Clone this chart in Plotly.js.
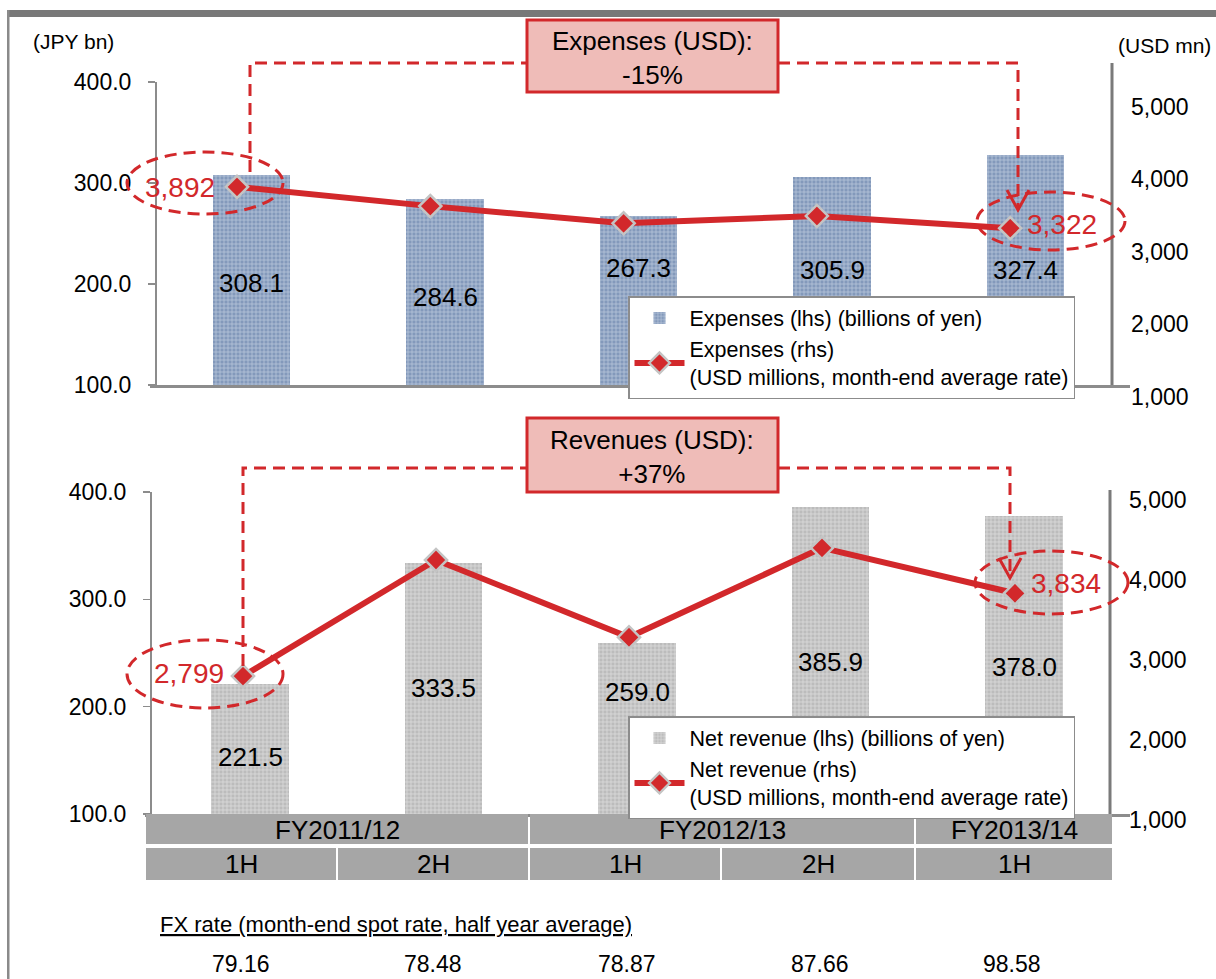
<!DOCTYPE html>
<html>
<head>
<meta charset="utf-8">
<script src="https://cdn.plot.ly/plotly-3.0.1.min.js"></script>
<style>
  html, body { margin: 0; padding: 0; background: #ffffff; }
  #chart { width: 1216px; height: 979px; }
</style>
</head>
<body>
<div id="chart"></div>
<script>
// ---- Data -------------------------------------------------------------
const periods = ['FY2011/12 1H', 'FY2011/12 2H', 'FY2012/13 1H', 'FY2012/13 2H', 'FY2013/14 1H'];
const fiscalYears = ['FY2011/12', 'FY2012/13', 'FY2013/14'];
const halves = ['1H', '2H', '1H', '2H', '1H'];

const expensesJPY = [308.1, 284.6, 267.3, 305.9, 327.4];   // billions of yen
const expensesUSD = [3892, 3626, 3389, 3490, 3322];        // USD millions
const revenueJPY = [221.5, 333.5, 259.0, 385.9, 378.0];    // billions of yen
const revenueUSD = [2799, 4250, 3284, 4402, 3834];         // USD millions
const fxRates = [79.16, 78.48, 78.87, 87.66, 98.58];       // JPY per USD

const leftTicks = [100, 200, 300, 400];
const rightTicks = [1000, 2000, 3000, 4000, 5000];

// ---- Page geometry helpers ------------------------------------------
const W = 1216, H = 979;
const px = x => x / W;
const py = y => 1 - y / H;
const yDomain = (bottom, top) => [py(bottom), py(top)];
// value range of an axis whose domain spans [bottom, top] pixels, given two reference ticks
function yRange(bottom, top, v1, p1, v2, p2) {
  const s = (p1 - p2) / (v2 - v1);
  return [v1 - (bottom - p1) / s, v2 + (p2 - top) / s];
}
const xRange = (left, right, c0, step) => [(left - c0) / step, (right - c0) / step];

const FONT = 'Liberation Sans, Arial, sans-serif';
const RED = '#d2282b';
const AXIS_GREY = '#8c8c8c';
const idx = periods.map((_, i) => i);
const fmtInt = v => v.toLocaleString('en-US');
const pctChange = arr => {
  const p = Math.round((arr[arr.length - 1] / arr[0] - 1) * 100);
  return (p > 0 ? '+' : '') + p + '%';
};

// ---- Traces -------------------------------------------------------------
const barWidth = 0.403;
const lineStyle = {color: RED, width: 6};
const markerStyle = {symbol: 'diamond', size: 17, color: RED, line: {color: '#c4c4c4', width: 2.5}};

const traces = [
  {
    type: 'bar', x: idx, y: expensesJPY, xaxis: 'x', yaxis: 'y', width: barWidth,
    name: 'Expenses (lhs) (billions of yen)', legend: 'legend',
    marker: {color: '#8aa0c0', line: {width: 0},
      pattern: {shape: '+', bgcolor: '#8399bb', fgcolor: '#b8c6db', size: 4, solidity: 0.35}},
    hoverinfo: 'skip'
  },
  {
    type: 'scatter', mode: 'lines+markers', x: idx, y: expensesUSD, xaxis: 'x3', yaxis: 'y2',
    name: 'Expenses (rhs)<br>(USD millions, month-end average rate)', legend: 'legend',
    line: lineStyle, marker: markerStyle, hoverinfo: 'skip'
  },
  {
    type: 'bar', x: idx, y: revenueJPY, xaxis: 'x2', yaxis: 'y3', width: barWidth,
    name: 'Net revenue (lhs) (billions of yen)', legend: 'legend2',
    marker: {color: '#c4c4c4', line: {width: 0},
      pattern: {shape: '+', bgcolor: '#bcbcbc', fgcolor: '#dcdcdc', size: 4, solidity: 0.35}},
    hoverinfo: 'skip'
  },
  {
    type: 'scatter', mode: 'lines+markers', x: idx, y: revenueUSD, xaxis: 'x4', yaxis: 'y4',
    name: 'Net revenue (rhs)<br>(USD millions, month-end average rate)', legend: 'legend2',
    line: lineStyle, marker: markerStyle, hoverinfo: 'skip'
  }
];

// ---- Axes ---------------------------------------------------------------
const tickFont = {family: FONT, size: 23, color: '#000'};
const hiddenX = (domain, range, anchor) => ({domain, range, anchor, visible: false, fixedrange: true});
const barX = (domain, range, anchor) => ({
  domain, range, anchor, showline: true, linecolor: AXIS_GREY, linewidth: 2.5,
  showticklabels: false, ticks: '', showgrid: false, zeroline: false, fixedrange: true
});
const leftY = (domain, pos) => ({
  domain, range: [100, 400], anchor: 'free', position: pos, side: 'left',
  showline: true, linecolor: AXIS_GREY, linewidth: 1.5,
  ticks: 'outside', ticklen: 7, tickcolor: AXIS_GREY, tickwidth: 1.5,
  tickvals: leftTicks, tickformat: '.1f', tickfont: tickFont, ticklabelstandoff: 12,
  showgrid: false, zeroline: false, fixedrange: true
});
const rightY = (domain, range, pos) => ({
  domain, range, anchor: 'free', position: pos, side: 'right',
  showline: false, ticks: '', tickvals: rightTicks, tickformat: ',', tickfont: tickFont,
  ticklabelstandoff: 18, showgrid: false, zeroline: false, fixedrange: true
});

// ---- Decorations --------------------------------------------------------
const dashed = {color: RED, width: 3, dash: '12px,7px'};
const pathOf = pts => pts.map((p, i) => (i ? 'L' : 'M') + px(p[0]) + ',' + py(p[1])).join(' ');
const pathShape = (pts, line) => ({type: 'path', xref: 'paper', yref: 'paper', path: pathOf(pts), line, layer: 'above'});
const rectShape = (x0, y0, x1, y1, fill, line) => ({
  type: 'rect', xref: 'paper', yref: 'paper', x0: px(x0), x1: px(x1), y0: py(y1), y1: py(y0),
  fillcolor: fill, line: line || {width: 0}, layer: 'above'
});
const ellipse = (x0, y0, x1, y1) => ({
  type: 'circle', xref: 'paper', yref: 'paper', x0: px(x0), x1: px(x1), y0: py(y1), y1: py(y0),
  line: dashed, layer: 'above'
});
const arrowHead = (x, y) => pathShape([[x - 11, y - 20], [x, y], [x + 11, y - 20]], {color: RED, width: 3});

const shapes = [
  // frame
  rectShape(7, 10, 1216, 17, '#787878'),
  rectShape(7, 10, 9.5, 979, '#8a8a8a'),
  // right axis lines
  pathShape([[1112, 63], [1112, 385]], {color: '#7a7a7a', width: 3}),
  pathShape([[1110, 490], [1110, 814]], {color: '#7a7a7a', width: 3}),
  // connectors, upper panel
  pathShape([[250, 172], [250, 63], [527, 63]], dashed),
  pathShape([[778, 63], [1018, 63], [1018, 208]], dashed),
  arrowHead(1018, 210),
  // connectors, lower panel
  pathShape([[243, 666], [243, 468], [527, 468]], dashed),
  pathShape([[778, 468], [1010, 468], [1010, 576]], dashed),
  arrowHead(1010, 578),
  // change boxes
  rectShape(527, 20, 778, 92, '#efbcb8', {color: RED, width: 3}),
  rectShape(527, 418, 778, 492, '#efbcb8', {color: RED, width: 3}),
  // highlighted values
  ellipse(127, 152, 283, 214),
  ellipse(977, 192, 1125, 250),
  ellipse(127, 640, 283, 708),
  ellipse(975, 551, 1128, 614)
];

// period table below the lower panel
const fyCells = [[146, 528], [530, 914], [916, 1112]];
const halfCells = [[146, 336], [338, 528], [530, 720], [722, 914], [916, 1112]];
fyCells.forEach(c => shapes.push(rectShape(c[0], 814, c[1], 844, '#a6a6a6')));
halfCells.forEach(c => shapes.push(rectShape(c[0], 848, c[1], 880, '#a6a6a6')));

// ---- Text ---------------------------------------------------------------
const txt = (text, x, y, size, color, extra) => Object.assign({
  text, xref: 'paper', yref: 'paper', x: px(x), y: py(y), xanchor: 'center', yanchor: 'middle',
  showarrow: false, font: {family: FONT, size, color: color || '#000'}
}, extra || {});

const annotations = [
  txt('(JPY bn)', 73, 41, 21),
  txt('(USD mn)', 1164, 45, 21),
  txt('Expenses (USD):<br>' + pctChange(expensesUSD), 652, 58, 26),
  txt('Revenues (USD):<br>' + pctChange(revenueUSD), 652, 457, 26),
  txt(fmtInt(expensesUSD[0]), 180, 188, 28, RED),
  txt(fmtInt(expensesUSD[4]), 1062, 224, 28, RED),
  txt(fmtInt(revenueUSD[0]), 189, 673, 28, RED),
  txt(fmtInt(revenueUSD[4]), 1066, 583, 28, RED),
  txt('<u>FX rate (month-end spot rate, half year average)</u>', 158, 924, 22, '#000', {xanchor: 'left'})
];

// bar value labels (vertical placement per bar)
const expLabelY = [283, 297, 268, 270, 270];
const revLabelY = [757, 688, 692, 662, 667];
expensesJPY.forEach((v, i) => annotations.push(Object.assign(
  txt(v.toFixed(1), 0, expLabelY[i], 26), {xref: 'x', x: i})));
revenueJPY.forEach((v, i) => annotations.push(Object.assign(
  txt(v.toFixed(1), 0, revLabelY[i], 26), {xref: 'x2', x: i})));

fiscalYears.forEach((t, i) => annotations.push(txt(t, (fyCells[i][0] + fyCells[i][1]) / 2, 830, 26)));
halves.forEach((t, i) => annotations.push(txt(t, (halfCells[i][0] + halfCells[i][1]) / 2, 864, 26)));
const fxX = [241, 433, 627, 820, 1012];
fxRates.forEach((v, i) => annotations.push(txt(v.toFixed(2), fxX[i], 964, 23)));

// ---- Layout -------------------------------------------------------------
const legendBase = {
  xanchor: 'left', yanchor: 'top', bgcolor: '#ffffff', bordercolor: AXIS_GREY, borderwidth: 1.5,
  font: {family: FONT, size: 21.5, color: '#000'}, itemwidth: 50, tracegroupgap: 0,
  traceorder: 'normal', itemclick: false, itemdoubleclick: false
};

const layout = {
  width: W, height: H,
  margin: {l: 0, r: 0, t: 0, b: 0},
  paper_bgcolor: '#ffffff', plot_bgcolor: 'rgba(0,0,0,0)',
  font: {family: FONT, color: '#000'},
  showlegend: true,
  bargap: 0,
  xaxis: barX([px(150), px(1130)], xRange(150, 1130, 251.5, 193.5), 'y'),
  yaxis: leftY(yDomain(385, 82), px(155)),
  xaxis3: hiddenX([px(150), px(1130)], xRange(150, 1130, 237, 193.3), 'y2'),
  yaxis2: rightY(yDomain(400, 63), yRange(400, 63, 1000, 396.5, 5000, 106.5), px(1112)),
  xaxis2: barX([px(145), px(1130)], xRange(145, 1130, 250, 193.5), 'y3'),
  yaxis3: leftY(yDomain(814, 492), px(150)),
  xaxis4: hiddenX([px(145), px(1130)], xRange(145, 1130, 243, 193), 'y4'),
  yaxis4: rightY(yDomain(824, 490), yRange(824, 490, 1000, 820, 5000, 500), px(1110)),
  legend: Object.assign({x: px(628), y: py(296)}, legendBase),
  legend2: Object.assign({x: px(628), y: py(716)}, legendBase),
  shapes, annotations
};

Plotly.newPlot('chart', traces, layout, {staticPlot: true, displayModeBar: false});
</script>
</body>
</html>
